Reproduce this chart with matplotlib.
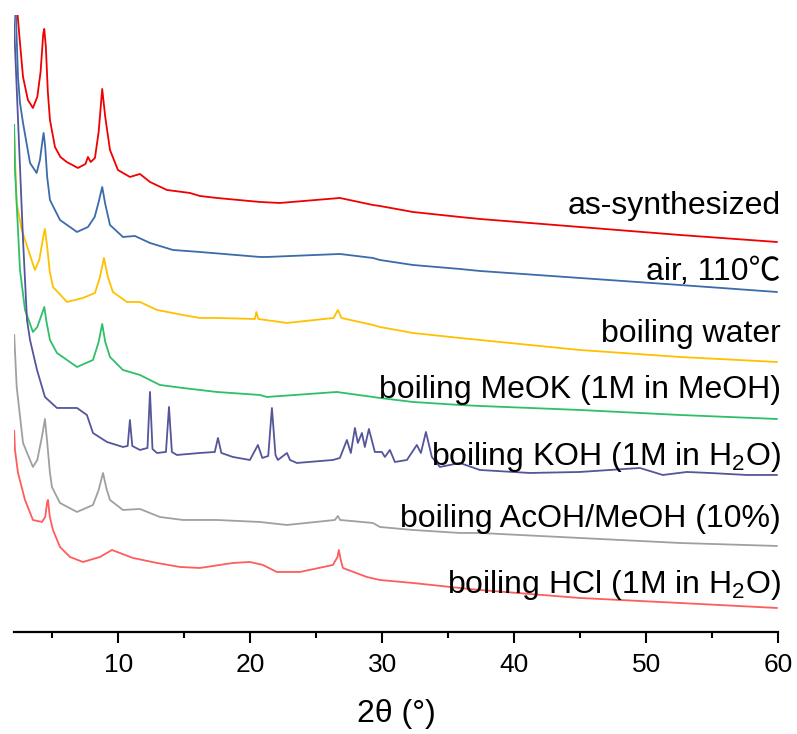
import matplotlib
matplotlib.use("Agg")
import matplotlib.pyplot as plt
from matplotlib.ticker import MultipleLocator

plt.rcParams['font.family'] = ['Liberation Sans', 'Noto Sans CJK SC', 'DejaVu Sans']
plt.rcParams['mathtext.default'] = 'regular'

# ---- data (2theta in degrees, intensity in arbitrary units, already stacked) ----
red_x = [2.1, 2.36, 2.54, 2.77, 3.14, 3.52, 3.85, 4.1, 4.3, 4.38, 4.5, 4.65, 4.81, 5.19, 5.6, 6.08,
         6.93, 7.5, 7.69, 7.9, 8.22, 8.5, 8.77, 9.0, 9.36, 9.96, 10.87, 11.63, 12.39, 13.67, 15.42,
         16.17, 17.46, 20.72, 22.23, 26.78, 29.28, 29.81, 32.31, 35.87, 37.39, 44.96, 52.54, 59.89]
red_y = [700, 617, 589, 555, 532, 524, 535, 560, 598, 603, 585, 540, 512, 485, 475, 470,
         464, 468, 475, 470, 474, 500, 543, 515, 482, 462, 455, 458, 450, 442, 439,
         436, 434, 430, 429, 434, 427, 426, 420, 415, 413, 405, 397, 390]

blue_x = [2.1, 2.23, 2.39, 2.54, 2.77, 3.30, 3.80, 4.05, 4.25, 4.33, 4.45, 4.6, 4.81, 5.57, 6.86,
          7.69, 8.2, 8.5, 8.77, 9.0, 9.36, 10.34, 11.25, 12.39, 14.13, 16.17, 20.72, 21.25, 26.78,
          29.28, 29.81, 32.31, 35.87, 37.39, 44.96, 52.54, 59.89]
blue_y = [700, 617, 555, 529, 509, 469, 459, 472, 492, 499, 485, 455, 432, 412, 400,
          405, 415, 430, 445, 428, 407, 395, 396, 389, 382, 380, 375, 375, 378,
          374, 372, 367, 363, 361, 354, 347, 340]

yellow_x = [2.1, 2.29, 2.67, 3.67, 4.0, 4.3, 4.43, 4.6, 4.8, 5.04, 6.1, 7.31, 8.22, 8.6, 8.9, 9.2,
            9.58, 10.64, 11.63, 12.92, 14.89, 16.17, 17.46, 20.34, 20.45, 20.6, 22.77, 26.3, 26.63,
            26.9, 29.28, 29.81, 32.31, 35.87, 37.39, 44.96, 52.54, 59.89]
yellow_y = [497, 429, 402, 362, 372, 395, 403, 385, 360, 345, 330, 334, 339, 355, 374, 355,
            340, 330, 330, 322, 317, 314, 314, 313, 320, 313, 309, 314, 322,
            314, 307, 305, 299, 294, 292, 282, 275, 270]

green_x = [2.1, 2.16, 2.54, 2.92, 3.52, 3.85, 4.2, 4.38, 4.55, 4.81, 5.34, 6.86, 8.07, 8.5, 8.77,
           9.0, 9.36, 10.34, 11.63, 13.14, 14.89, 17.46, 20.72, 21.25, 26.55, 29.28, 29.81, 32.31,
           35.87, 37.39, 44.96, 52.54, 59.89]
green_y = [507, 462, 362, 322, 300, 305, 318, 325, 310, 292, 279, 265, 272, 290, 308,
           290, 275, 262, 257, 247, 244, 240, 237, 235, 240, 235, 234, 230,
           227, 226, 222, 217, 213]

purple_x = [2.05, 2.36, 2.77, 3.07, 3.30, 3.83, 4.43, 5.34, 6.86, 7.61, 8.07, 9.13, 10.34, 10.7,
            10.87, 11.05, 11.63, 12.2, 12.39, 12.58, 12.92, 13.6, 13.83, 14.05, 14.43, 16.17, 17.3,
            17.54, 17.8, 18.67, 19.96, 20.57, 20.9, 21.35, 21.63, 21.9, 22.08, 22.77, 23.0, 23.52,
            26.25, 26.78, 27.31, 27.61, 27.92, 28.14, 28.45, 28.67, 28.98, 29.43, 29.96, 30.19,
            30.57, 30.95, 31.86, 32.61, 32.92, 33.30, 33.75, 34.36, 35.87, 37.39, 41.17, 44.96,
            49.51, 51.25, 53.07, 54.81, 57.61, 59.89]
purple_y = [620, 522, 392, 312, 292, 262, 235, 224, 224, 217, 199, 190, 185, 186,
            212, 186, 182, 184, 240, 183, 179, 180, 225, 180, 177, 179, 180,
            194, 179, 175, 172, 187, 174, 176, 224, 177, 172, 179, 172, 169,
            172, 174, 192, 179, 204, 189, 199, 185, 203, 180, 180, 175,
            182, 170, 172, 187, 179, 200, 175, 165, 169, 162, 159, 160,
            164, 157, 160, 159, 157, 157]

gray_x = [2.1, 2.29, 2.77, 3.52, 3.85, 4.2, 4.43, 4.6, 4.81, 4.96, 5.57, 6.86, 8.07, 8.5, 8.83,
          9.1, 9.36, 10.34, 11.63, 13.14, 14.89, 17.46, 20.72, 22.77, 26.4, 26.63, 26.8, 29.28,
          29.81, 32.31, 35.87, 37.39, 44.96, 52.54, 59.89]
gray_y = [297, 245, 189, 165, 172, 195, 213, 190, 159, 145, 129, 120, 127, 142, 159,
          143, 132, 122, 123, 115, 112, 112, 110, 107, 112, 116, 112, 109,
          105, 102, 99, 99, 94, 89, 86]

pink_x = [2.1, 2.16, 2.39, 2.92, 3.52, 4.2, 4.45, 4.6, 4.66, 4.8, 5.04, 5.57, 6.33, 7.31, 8.60,
          9.51, 11.10, 12.92, 14.66, 16.17, 18.67, 19.96, 20.95, 22.0, 23.75, 26.25, 26.6, 26.70,
          26.85, 27.01, 28.82, 29.81, 32.31, 35.87, 37.39, 44.96, 52.54, 59.89]
pink_y = [201, 182, 159, 132, 112, 110, 115, 130, 132, 115, 102, 85, 75, 70, 75,
          82, 74, 69, 65, 64, 69, 70, 67, 60, 60, 67, 75, 82,
          72, 64, 55, 52, 49, 44, 42, 34, 29, 24]

labels = ['as-synthesized', 'air, 110\u2103', 'boiling water', 'boiling MeOK (1M in MeOH)',
          'boiling KOH (1M in H$_2$O)', 'boiling AcOH/MeOH (10%)', 'boiling HCl (1M in H$_2$O)']
label_y = [418, 352, 290, 234, 167, 105, 39]

colors = ['#F00000', '#3B6BAA', '#FFC000', '#2FBF6A', '#55559A', '#A0A0A0', '#FF5C5C']
series = [(red_x, red_y), (blue_x, blue_y), (yellow_x, yellow_y), (green_x, green_y),
          (purple_x, purple_y), (gray_x, gray_y), (pink_x, pink_y)]

fig = plt.figure(figsize=(7.97, 7.34), dpi=100)
ax = fig.add_axes([0.0178, 0.139, 0.9587, 0.8406])

for (xs, ys), c in zip(series, colors):
    ax.plot(xs, ys, color=c, lw=1.3)

for lab, ly in zip(labels, label_y):
    ax.text(60.2, ly, lab, ha='right', va='baseline', fontsize=23, color='black')

ax.set_xlim(2.1, 60)
ax.set_ylim(0, 617)
for s in ['left', 'right', 'top']:
    ax.spines[s].set_visible(False)
ax.spines['bottom'].set_linewidth(1.6)
ax.set_yticks([])
ax.xaxis.set_major_locator(MultipleLocator(10))
ax.xaxis.set_minor_locator(MultipleLocator(5))
ax.tick_params(axis='x', which='major', direction='out', length=8, width=1.5, labelsize=19, pad=7)
ax.tick_params(axis='x', which='minor', direction='out', length=4.5, width=1.5)
ax.set_xlabel('2\u03b8 (\u00b0)', fontsize=23, labelpad=16)

fig.savefig('out.png', dpi=100)
